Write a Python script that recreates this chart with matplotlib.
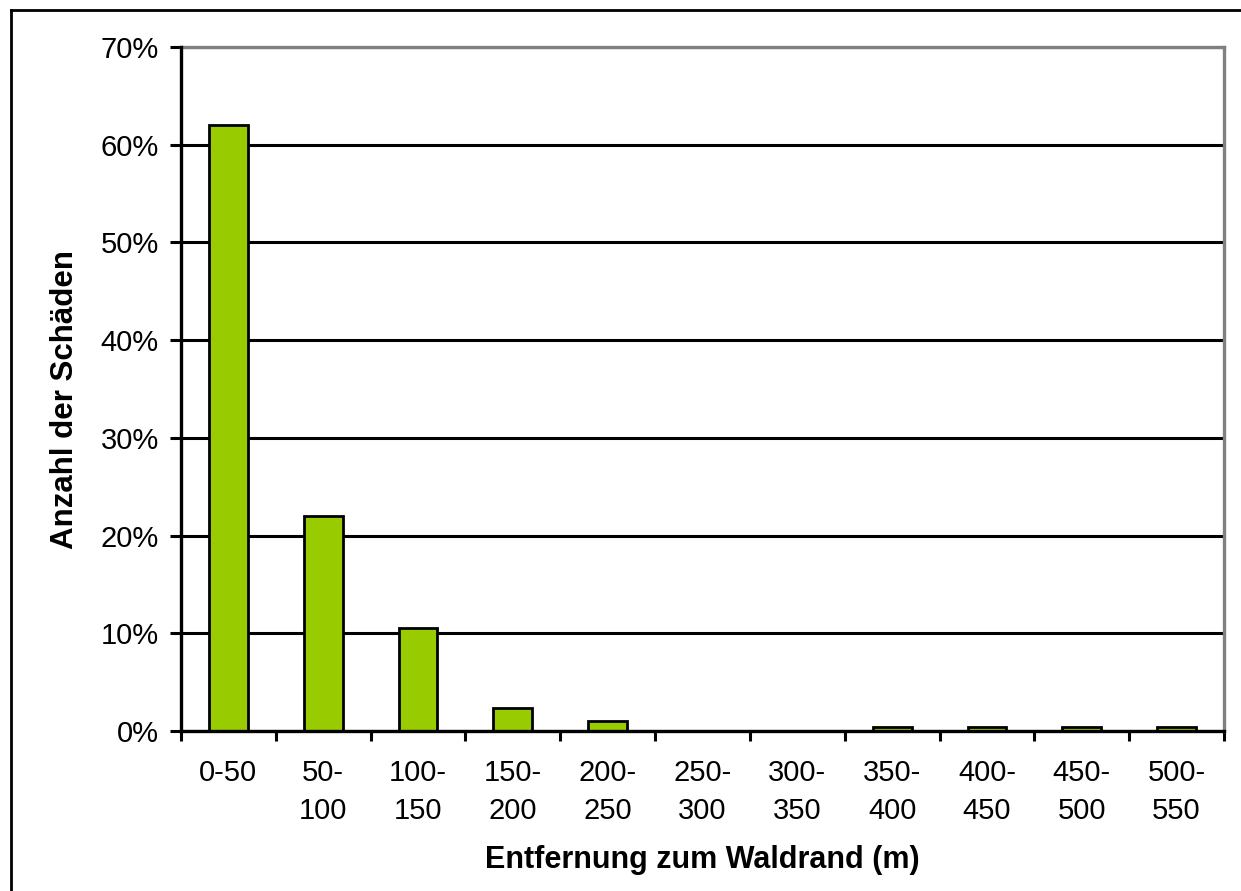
import matplotlib.pyplot as plt
import matplotlib.ticker as mticker
from matplotlib.lines import Line2D

plt.rcParams['font.family'] = ['Liberation Sans', 'DejaVu Sans']

# Anteil der Schäden je Entfernungsklasse
distance_classes = ['0-50', '50-\n100', '100-\n150', '150-\n200', '200-\n250', '250-\n300',
                    '300-\n350', '350-\n400', '400-\n450', '450-\n500', '500-\n550']
damage_share = [62.0, 22.0, 10.5, 2.35, 1.0, 0.0, 0.0, 0.4, 0.4, 0.4, 0.4]
y_ticks = [0, 10, 20, 30, 40, 50, 60, 70]

W, H = 1241, 891
fig = plt.figure(figsize=(W / 100, H / 100), dpi=100)
ax = fig.add_axes([181 / W, 1 - 731 / H, (1224 - 181) / W, (731 - 47) / H])

pos = list(range(len(distance_classes)))
ax.bar(pos, damage_share, width=0.41, color='#99CC00', edgecolor='black',
       linewidth=2.0, zorder=3)

ax.set_xlim(-0.5, len(distance_classes) - 0.5)
ax.set_ylim(0, 70)
ax.set_yticks(y_ticks)
ax.yaxis.set_major_formatter(mticker.FuncFormatter(lambda v, p: f"{v:.0f}%"))
ax.set_xticks(pos)
ax.set_xticklabels(distance_classes, fontsize=21, linespacing=1.48)
ax.set_xticks([p - 0.5 for p in pos] + [len(pos) - 0.5], minor=True)
ax.tick_params(axis='x', which='major', length=0, pad=20)
ax.tick_params(axis='x', which='minor', length=7, width=2.2, direction='out')
ax.tick_params(axis='y', labelsize=21, length=8, width=2.2, pad=8)

ax.yaxis.grid(True, color='black', linewidth=2.2, zorder=1)
ax.set_axisbelow(True)

for side in ['left', 'bottom']:
    ax.spines[side].set_linewidth(2.4)
    ax.spines[side].set_zorder(4)
for side in ['top', 'right']:
    ax.spines[side].set_color('#808080')
    ax.spines[side].set_linewidth(2.4)

ax.set_ylabel('Anzahl der Schäden', fontsize=22.5, fontweight='bold')
ax.yaxis.set_label_coords(-0.097, 0.484)
ax.set_xlabel('Entfernung zum Waldrand (m)', fontsize=22, fontweight='bold')
ax.xaxis.set_label_coords(0.5, -0.166)

# Rahmen um das Diagramm (nur links und oben sichtbar)
fig.add_artist(Line2D([10.5 / W, 10.5 / W], [0, 1 - 10 / H], color='black',
                      linewidth=2, transform=fig.transFigure))
fig.add_artist(Line2D([10.5 / W, 1], [1 - 10 / H, 1 - 10 / H], color='black',
                      linewidth=2, transform=fig.transFigure))

fig.savefig('out.png', dpi=100, facecolor='white')
